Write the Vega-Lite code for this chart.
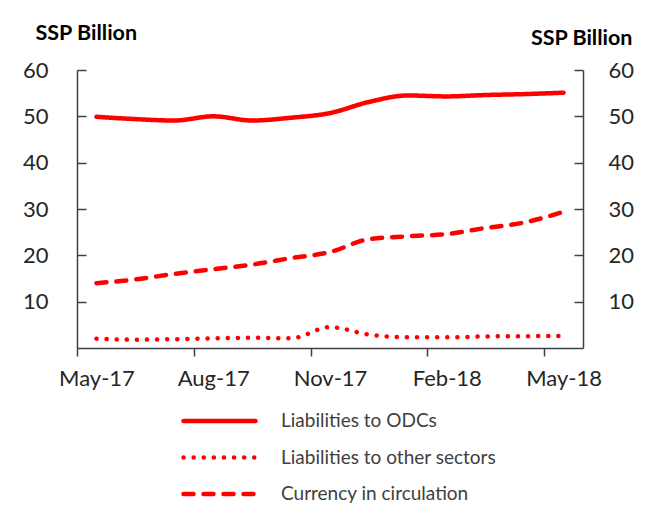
{
  "$schema": "https://vega.github.io/schema/vega-lite/v6.json",
  "width": 506,
  "height": 278,
  "autosize": "none",
  "padding": {"left": 77, "top": 70, "right": 67, "bottom": 168},
  "background": "white",
  "config": {"view": {"stroke": null}, "font": "Lato"},
  "data": {"values": [
    {"month": "May-17", "series": "Liabilities to ODCs", "value": 49.9},
    {"month": "Jun-17", "series": "Liabilities to ODCs", "value": 49.4},
    {"month": "Jul-17", "series": "Liabilities to ODCs", "value": 49.1},
    {"month": "Aug-17", "series": "Liabilities to ODCs", "value": 50.0},
    {"month": "Sep-17", "series": "Liabilities to ODCs", "value": 49.1},
    {"month": "Oct-17", "series": "Liabilities to ODCs", "value": 49.7},
    {"month": "Nov-17", "series": "Liabilities to ODCs", "value": 50.7},
    {"month": "Dec-17", "series": "Liabilities to ODCs", "value": 53.1},
    {"month": "Jan-18", "series": "Liabilities to ODCs", "value": 54.5},
    {"month": "Feb-18", "series": "Liabilities to ODCs", "value": 54.3},
    {"month": "Mar-18", "series": "Liabilities to ODCs", "value": 54.6},
    {"month": "Apr-18", "series": "Liabilities to ODCs", "value": 54.8},
    {"month": "May-18", "series": "Liabilities to ODCs", "value": 55.1},
    {"month": "May-17", "series": "Liabilities to other sectors", "value": 2.0},
    {"month": "Jun-17", "series": "Liabilities to other sectors", "value": 1.8},
    {"month": "Jul-17", "series": "Liabilities to other sectors", "value": 1.9},
    {"month": "Aug-17", "series": "Liabilities to other sectors", "value": 2.1},
    {"month": "Sep-17", "series": "Liabilities to other sectors", "value": 2.2},
    {"month": "Oct-17", "series": "Liabilities to other sectors", "value": 2.1},
    {"month": "Nov-17", "series": "Liabilities to other sectors", "value": 4.5},
    {"month": "Dec-17", "series": "Liabilities to other sectors", "value": 2.9},
    {"month": "Jan-18", "series": "Liabilities to other sectors", "value": 2.3},
    {"month": "Feb-18", "series": "Liabilities to other sectors", "value": 2.3},
    {"month": "Mar-18", "series": "Liabilities to other sectors", "value": 2.5},
    {"month": "Apr-18", "series": "Liabilities to other sectors", "value": 2.55},
    {"month": "May-18", "series": "Liabilities to other sectors", "value": 2.6},
    {"month": "May-17", "series": "Currency in circulation", "value": 14.0},
    {"month": "Jun-17", "series": "Currency in circulation", "value": 14.8},
    {"month": "Jul-17", "series": "Currency in circulation", "value": 16.0},
    {"month": "Aug-17", "series": "Currency in circulation", "value": 17.0},
    {"month": "Sep-17", "series": "Currency in circulation", "value": 18.0},
    {"month": "Oct-17", "series": "Currency in circulation", "value": 19.4},
    {"month": "Nov-17", "series": "Currency in circulation", "value": 20.7},
    {"month": "Dec-17", "series": "Currency in circulation", "value": 23.5},
    {"month": "Jan-18", "series": "Currency in circulation", "value": 24.1},
    {"month": "Feb-18", "series": "Currency in circulation", "value": 24.6},
    {"month": "Mar-18", "series": "Currency in circulation", "value": 25.9},
    {"month": "Apr-18", "series": "Currency in circulation", "value": 27.1},
    {"month": "May-18", "series": "Currency in circulation", "value": 29.4}
  ]},
  "encoding": {
    "x": {
      "field": "month", "type": "ordinal", "sort": null,
      "scale": {"type": "band", "paddingInner": 0, "paddingOuter": 0},
      "axis": {
        "title": null,
        "values": ["May-17", "Aug-17", "Nov-17", "Feb-18", "May-18"],
        "tickOffset": -19.46, "labelOffset": 19.46,
        "labelAngle": 0,
        "labelFont": "Lato", "labelFontSize": 22, "labelColor": "#262626",
        "labelPadding": 12, "tickSize": 8,
        "domainColor": "#404040", "tickColor": "#404040", "domainWidth": 1.5, "tickWidth": 1.5,
        "grid": false
      }
    },
    "y": {
      "field": "value", "type": "quantitative",
      "scale": {"domain": [0, 60], "nice": false}
    }
  },
  "layer": [
    {
      "mark": {"type": "line", "color": "#ff0000", "strokeWidth": 4.5, "strokeCap": "round", "interpolate": "monotone"},
      "encoding": {
        "y": {
          "field": "value", "type": "quantitative",
          "scale": {"domain": [0, 60], "nice": false},
          "axis": {
            "orient": "left", "values": [10, 20, 30, 40, 50, 60], "grid": false,
            "tickSize": -9, "labelPadding": 38,
            "labelFont": "Lato", "labelFontSize": 22, "labelColor": "#262626",
            "domainColor": "#404040", "tickColor": "#404040", "domainWidth": 1.5, "tickWidth": 1.5,
            "title": "SSP Billion", "titleAngle": 0, "titleX": -42, "titleY": -31,
            "titleAlign": "left", "titleBaseline": "alphabetic",
            "titleFont": "Lato", "titleFontSize": 21.5, "titleFontWeight": "bold", "titleColor": "#000000"
          }
        },
        "strokeDash": {
          "field": "series", "type": "nominal",
          "scale": {
            "domain": ["Liabilities to ODCs", "Liabilities to other sectors", "Currency in circulation"],
            "range": [[1, 0], [0.1, 10], [10, 10]]
          },
          "legend": {
            "title": null, "orient": "none", "legendX": 104, "legendY": 341,
            "direction": "vertical", "padding": 0,
            "symbolType": "stroke", "symbolSize": 5184, "symbolStrokeWidth": 4.5,
            "symbolStrokeColor": "#ff0000", "clipHeight": 20, "rowPadding": 16.5,
            "labelOffset": 23, "labelFont": "Lato", "labelFontSize": 19, "labelColor": "#404040",
            "labelLimit": 400,
            "encode": {"symbols": {"update": {"strokeCap": {"value": "round"}}}}
          }
        }
      }
    },
    {
      "mark": {"type": "line", "strokeOpacity": 0},
      "encoding": {
        "detail": {"field": "series"},
        "y": {
          "field": "value", "type": "quantitative",
          "scale": {"domain": [0, 60], "nice": false},
          "axis": {
            "orient": "right", "values": [10, 20, 30, 40, 50, 60], "grid": false,
            "tickSize": -9, "labelPadding": 34,
            "labelFont": "Lato", "labelFontSize": 22, "labelColor": "#262626",
            "domainColor": "#404040", "tickColor": "#404040", "domainWidth": 1.5, "tickWidth": 1.5,
            "title": "SSP Billion", "titleAngle": 0, "titleX": 49, "titleY": -26,
            "titleAlign": "right", "titleBaseline": "alphabetic",
            "titleFont": "Lato", "titleFontSize": 21.5, "titleFontWeight": "bold", "titleColor": "#000000"
          }
        }
      }
    }
  ],
  "resolve": {"axis": {"y": "independent"}}
}
